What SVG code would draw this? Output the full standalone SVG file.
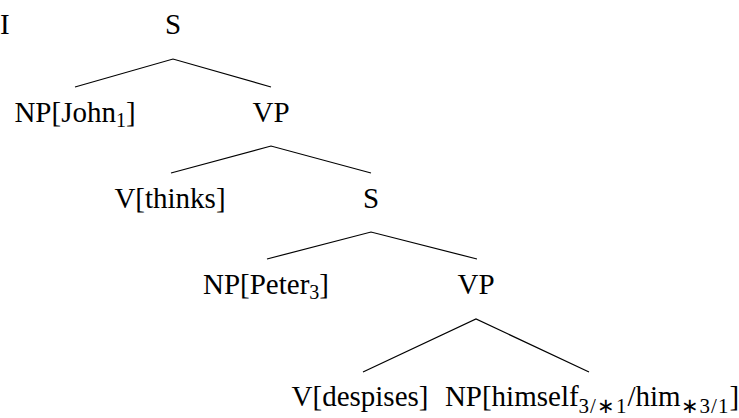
<svg xmlns="http://www.w3.org/2000/svg" width="739" height="418" viewBox="0 0 739 418">
  <style>
    text { font-family: "Liberation Serif", "Times New Roman", serif; font-size: 29px; fill: #000; text-anchor: middle; }
    .sub { font-size: 20px; }
    .sub2 { font-size: 21px; letter-spacing: 1px; }
    .edge { stroke: #000; stroke-width: 1.2; fill: none; }
  </style>
  <rect width="739" height="418" fill="#fff"/>

  <!-- branch lines of the tree -->
  <g id="edges">
    <polyline class="edge" points="75,87 173,59 271,87"/>
    <polyline class="edge" points="171,173 271,146 371,173"/>
    <polyline class="edge" points="267,259 371,232 477,259"/>
    <polyline class="edge" points="363,372 476,319 589,372"/>
  </g>

  <g id="label-I"><text x="0" y="34" style="text-anchor:start">I</text></g>
  <g id="node-S1"><text x="173" y="34">S</text></g>
  <g id="node-NP-John"><text x="75" y="122">NP[John<tspan class="sub" dy="5">1</tspan><tspan dy="-5">]</tspan></text></g>
  <g id="node-VP1"><text x="271" y="122">VP</text></g>
  <g id="node-V-thinks"><text x="170" y="208">V[thinks]</text></g>
  <g id="node-S2"><text x="371" y="208">S</text></g>
  <g id="node-NP-Peter"><text x="266" y="294">NP[Peter<tspan class="sub" dy="5">3</tspan><tspan dy="-5">]</tspan></text></g>
  <g id="node-VP2"><text x="476" y="294">VP</text></g>
  <g id="node-V-despises"><text x="360" y="406">V[despises]</text></g>
  <g id="node-NP-himself"><text x="592" y="406">NP[himself<tspan class="sub2" dy="7">3/∗1</tspan><tspan dy="-7">/him</tspan><tspan class="sub2" dy="7">∗3/1</tspan><tspan dy="-7">]</tspan></text></g>
</svg>
